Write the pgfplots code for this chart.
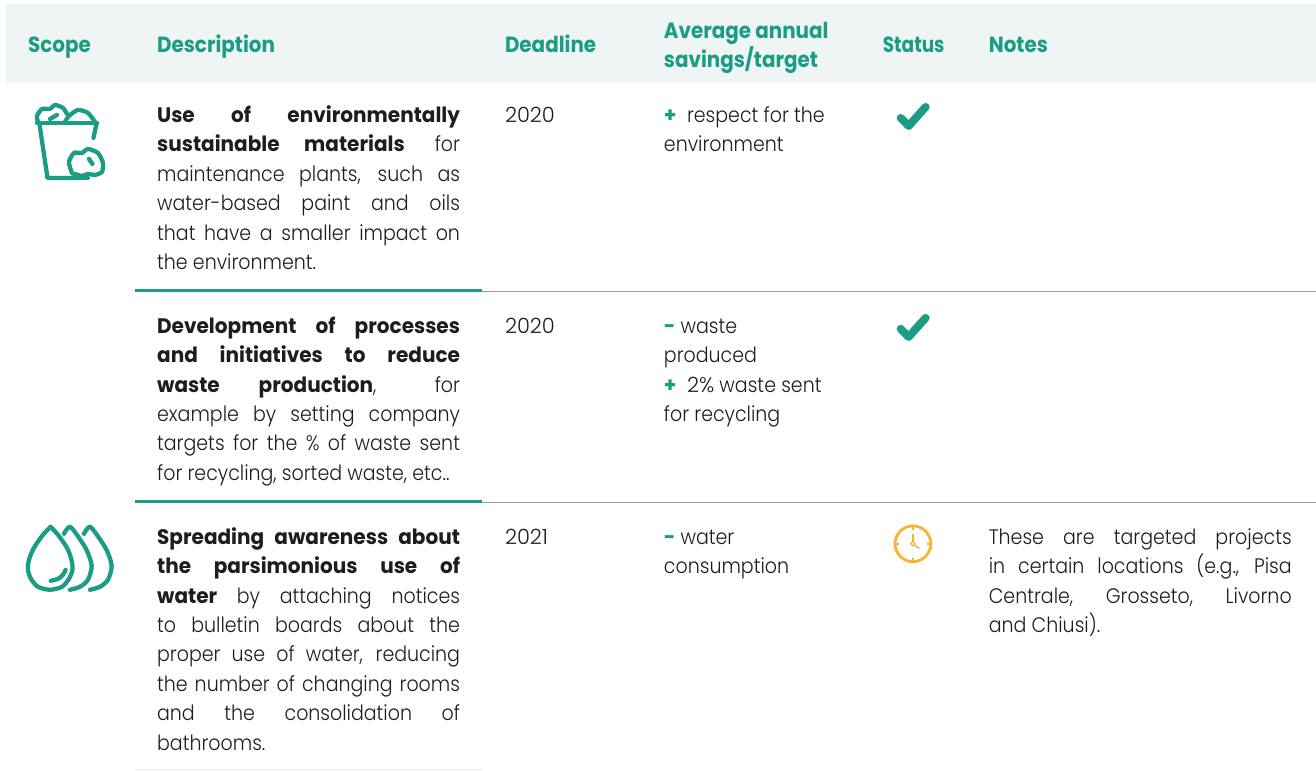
\documentclass[border=0pt]{standalone}
\usepackage{pgfplots}
\pgfplotsset{compat=1.18}
\usepackage{fontspec}
\setmainfont{Poppins Light}[FakeStretch=0.905]
\newfontfamily\hb{Poppins Bold}[FakeStretch=0.955]
\newfontfamily\hh{Poppins Bold}[FakeStretch=0.905]
\newfontfamily\hs{Poppins Bold}[FakeStretch=0.84]
\newfontfamily\ys{Poppins Light}
\definecolor{teal1}{HTML}{1B9C85}
\definecolor{band}{HTML}{EEF5F4}
\definecolor{txt}{HTML}{1D1D1B}
\definecolor{org}{HTML}{F9B233}
\newcommand{\T}[3]{\node[anchor=base west,inner sep=0pt,text=txt,font=\fontsize{21}{25}\selectfont] at (axis cs:#1,#2) {#3};}
\newcommand{\J}[3]{\node[anchor=base west,inner sep=0pt,text=txt,font=\fontsize{21}{25}\selectfont] at (axis cs:#1,#2) {\makebox[303pt][s]{#3}};}
\newcommand{\Hd}[3]{\node[anchor=base west,inner sep=0pt,text=teal1,font=\hh\fontsize{22}{25}\selectfont] at (axis cs:#1,#2) {#3};}
\newcommand{\B}[1]{{\hb #1}}
\newcommand{\Y}[1]{{\ys #1}}
\newcommand{\Pl}{{\hb\color{teal1}+}\hspace{10.5pt}}
\newcommand{\Mn}{{\hb\color{teal1}-}\hspace{5pt}}
\begin{document}
\begin{tikzpicture}
\begin{axis}[scale only axis,width=1316pt,height=771pt,xmin=0,xmax=1316,ymin=0,ymax=771,y dir=reverse,hide axis,clip=false]
% invisible frame keeps page size
\addplot[draw=none,forget plot] coordinates {(0,0)(1316,771)};
% header band
\addplot[draw=none,fill=band,forget plot] coordinates {(6,4)(1316,4)(1316,82)(6,82)} --cycle;
% rules
\addplot[gray!80,line width=1pt,forget plot] coordinates {(135,291.5)(1316,291.5)};
\addplot[teal1,line width=3pt,forget plot] coordinates {(135,291)(482,291)};
\addplot[gray!80,line width=1pt,forget plot] coordinates {(135,502.5)(1316,502.5)};
\addplot[teal1,line width=3pt,forget plot] coordinates {(135,502)(482,502)};
\addplot[teal1!15,line width=1.5pt,forget plot] coordinates {(135,770)(482,770)};
% waste icon
\pgfplotsset{ic/.style={teal1,line width=4.3pt,line cap=round,line join=round,forget plot}}
\addplot[ic] coordinates {(37,123)(97,123)};
\addplot[ic] coordinates {(39.5,124)(47.5,178)(75,178)};
\addplot[ic] coordinates {(75,178)(88,178)};
\addplot[ic] coordinates {(96.5,124)(93.5,138)};
\addplot[ic,smooth,tension=0.4] coordinates {(38,122)(37,116)(42,109)(50,109)(55,105)(63,108)(67,114)};
\addplot[ic,smooth,tension=0.4] coordinates {(65,122)(69,116)(78,110)(88,113)(95,122)};
\addplot[ic] coordinates {(50,119)(57,115)};
\addplot[ic,fill=white,smooth cycle,tension=0.4] coordinates {(72,173)(69,162)(74,153)(82,153)(88,149)(98,153)(103,163)(102,172)(95,175)(88,174)(82,176)(75,174)};
\addplot[ic] coordinates {(89,159)(92.5,164)};
% water icon
\addplot[ic,smooth,tension=0.5] coordinates {(50.7,527)(43,535)(34,548)(29,560)(28,570)(31,579)(38,587)(50,590)(62,587)(69,579)(72.5,570)(71.5,560)(67,548)(58,535)(50.7,527)};
\addplot[ic,smooth,tension=0.5] coordinates {(64,534)(70,527)(79,538)(87,551)(91.7,566)(88,580)(80,587)(70,590)};
\addplot[ic,smooth,tension=0.5] coordinates {(84,534)(90,527)(99,538)(107,551)(111.7,566)(108,580)(100,587)(90,590)};
\addplot[ic,smooth,tension=0.5] coordinates {(50.7,581)(58,579)(63,575)(65.7,570)};
% check marks
\addplot[teal1,line width=8pt,line cap=round,line join=round,forget plot] coordinates {(901,118)(909,126)(926,107)};
\addplot[teal1,line width=8pt,line cap=round,line join=round,forget plot] coordinates {(901,329)(909,337)(926,318)};
% clock
\addplot[org,line width=2.8pt,smooth cycle,forget plot] coordinates {(913.3,526)(920,527.4)(926,531.3)(930,537.5)(931.3,544)(930,550.5)(926,556.7)(920,560.6)(913.3,562)(906.6,560.6)(900.6,556.7)(896.6,550.5)(895.3,544)(896.6,537.5)(900.6,531.3)(906.6,527.4)};
\addplot[org,line width=1.5pt,forget plot] coordinates {(913.3,534)(913.3,542)};
\addplot[org,line width=1.5pt,forget plot] coordinates {(915,545.5)(919.5,548.5)};
\addplot[org,line width=1.3pt,smooth cycle,forget plot] coordinates {(913.3,542)(915.3,544)(913.3,546)(911.3,544)};
\addplot[org,line width=2pt,forget plot] coordinates {(913.3,526)(913.3,530)};
\addplot[org,line width=2pt,forget plot] coordinates {(913.3,558)(913.3,562)};
\addplot[org,line width=2pt,forget plot] coordinates {(895.3,544)(899.3,544)};
\addplot[org,line width=2pt,forget plot] coordinates {(927.3,544)(931.3,544)};
% header
\Hd{28}{53}{Scope}
\Hd{157}{53}{Description}
\Hd{505}{53}{Deadline}
\Hd{664}{39}{Average annual}
\Hd{664}{68}{savings/target}
\Hd{883}{53}{\hs Status}
\Hd{989}{53}{Notes}
% row 1
\J{157}{122.5}{\B{Use of environmentally}}
\J{157}{151.9}{\B{sustainable materials} for}
\J{157}{181.5}{maintenance plants, such as}
\J{157}{210.7}{water-based paint and oils}
\J{157}{240.1}{that have a smaller impact on}
\T{157}{269.5}{the environment.}
\T{505}{122.5}{\Y{2020}}
\T{664}{122.5}{\Pl respect for the}
\T{664}{151.9}{environment}
% row 2
\J{157}{333.5}{\B{Development of processes}}
\J{157}{362.9}{\B{and initiatives to reduce}}
\J{157}{392.5}{\B{waste production}, for}
\J{157}{421.7}{example by setting company}
\J{157}{451.1}{targets for the \% of waste sent}
\T{157}{480.5}{for recycling, sorted waste, etc..}
\T{505}{333.5}{\Y{2020}}
\T{664}{333.5}{\Mn waste}
\T{664}{362.9}{produced}
\T{664}{392.5}{\Pl \Y{2\%} waste sent}
\T{664}{421.7}{for recycling}
% row 3
\J{157}{544.5}{\B{Spreading awareness about}}
\J{157}{573.9}{\B{the parsimonious use of}}
\J{157}{603.5}{\B{water} by attaching notices}
\J{157}{632.7}{to bulletin boards about the}
\J{157}{662.1}{proper use of water, reducing}
\J{157}{691.5}{the number of changing rooms}
\J{157}{720.9}{and the consolidation of}
\T{157}{750.5}{bathrooms.}
\T{505}{544.5}{\Y{2021}}
\T{664}{544.5}{\Mn water}
\T{664}{573.9}{consumption}
\J{989}{544.5}{These are targeted projects}
\J{989}{573.9}{in certain locations (e.g., Pisa}
\J{989}{603.5}{Centrale, Grosseto, Livorno}
\T{989}{632.7}{and Chiusi).}
\end{axis}
\end{tikzpicture}
\end{document}
